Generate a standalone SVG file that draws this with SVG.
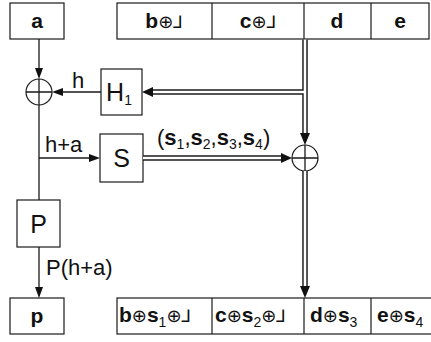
<svg xmlns="http://www.w3.org/2000/svg" width="431" height="342" viewBox="0 0 431 342">
  <style>
    .box { fill: #ffffff; stroke: #1a1a1a; stroke-width: 1.2; }
    .cell { font-family: "Liberation Sans", "DejaVu Sans", sans-serif; font-weight: bold; font-size: 21px; fill: #111; }
    .op { font-family: "DejaVu Sans", sans-serif; font-weight: normal; font-size: 18px; }
    .dl { font-family: "DejaVu Sans", sans-serif; font-weight: normal; font-size: 17px; }
    .sub { font-family: "Liberation Sans", sans-serif; font-weight: normal; font-size: 14px; }
    .lbl { font-family: "Liberation Sans", sans-serif; font-size: 22px; fill: #111; }
    .blk { font-family: "Liberation Sans", sans-serif; font-size: 25px; fill: #111; }
    .wire { fill: none; stroke: #1a1a1a; stroke-width: 1.3; }
    .dbl-out { fill: none; stroke: #1a1a1a; stroke-width: 5.5; }
    .dbl-in { fill: none; stroke: #ffffff; stroke-width: 2.6; }
    .xor { fill: #ffffff; stroke: #1a1a1a; stroke-width: 1.2; }
    .head { fill: #111; }
  </style>

  <!-- input word -->
  <g id="in-a">
    <rect class="box" x="10" y="3" width="54" height="36"/>
    <text class="cell" x="37" y="28" text-anchor="middle">a</text>
  </g>
  <g id="in-rest">
    <rect class="box" x="117" y="3" width="312" height="36"/>
    <line class="box" x1="212" y1="3" x2="212" y2="39"/>
    <line class="box" x1="304" y1="3" x2="304" y2="39"/>
    <line class="box" x1="371" y1="3" x2="371" y2="39"/>
    <text class="cell" x="164" y="28" text-anchor="middle">b<tspan class="op">⊕</tspan><tspan class="dl">⅃</tspan></text>
    <text class="cell" x="258" y="28" text-anchor="middle">c<tspan class="op">⊕</tspan><tspan class="dl">⅃</tspan></text>
    <text class="cell" x="337" y="28" text-anchor="middle">d</text>
    <text class="cell" x="400" y="28" text-anchor="middle">e</text>
  </g>

  <!-- function blocks -->
  <g id="H1">
    <rect class="box" x="101" y="69" width="41" height="46"/>
    <text class="blk" x="119" y="101" text-anchor="middle">H<tspan class="sub" dy="4">1</tspan></text>
  </g>
  <g id="S">
    <rect class="box" x="100" y="134" width="43" height="48"/>
    <text class="blk" x="121.5" y="167" text-anchor="middle">S</text>
  </g>
  <g id="P">
    <rect class="box" x="17" y="200" width="43" height="47"/>
    <text class="blk" x="38.5" y="233" text-anchor="middle">P</text>
  </g>

  <!-- xor junctions -->
  <g id="xor1">
    <circle class="xor" cx="39" cy="92" r="13"/>
    <path class="wire" d="M26,92 H52 M39,79 V105"/>
  </g>
  <g id="xor2">
    <circle class="xor" cx="305" cy="158" r="13"/>
    <path class="wire" d="M292,158 H318 M305,145 V171"/>
  </g>

  <!-- output word -->
  <g id="out-p">
    <rect class="box" x="10" y="298" width="54" height="36"/>
    <text class="cell" x="37" y="323" text-anchor="middle">p</text>
  </g>
  <g id="out-rest">
    <rect class="box" x="117" y="298" width="330" height="36"/>
    <line class="box" x1="212" y1="298" x2="212" y2="334"/>
    <line class="box" x1="304" y1="298" x2="304" y2="334"/>
    <line class="box" x1="371" y1="298" x2="371" y2="334"/>
    <text class="cell" x="119" y="322">b<tspan class="op">⊕</tspan>s<tspan class="sub" dy="5">1</tspan><tspan class="op" dy="-5">⊕</tspan><tspan class="dl">⅃</tspan></text>
    <text class="cell" x="215" y="322">c<tspan class="op">⊕</tspan>s<tspan class="sub" dy="5">2</tspan><tspan class="op" dy="-5">⊕</tspan><tspan class="dl">⅃</tspan></text>
    <text class="cell" x="310" y="322">d<tspan class="op">⊕</tspan>s<tspan class="sub" dy="5">3</tspan></text>
    <text class="cell" x="377" y="322">e<tspan class="op">⊕</tspan>s<tspan class="sub" dy="5">4</tspan></text>
  </g>

  <!-- connectors -->
  <g id="connectors">
    <!-- single wires -->
    <path class="wire" d="M39,39 V68"/>
    <polygon class="head" points="35,68 43,68 39,79"/>
    <path class="wire" d="M101,92 H63"/>
    <polygon class="head" points="63,88 63,96 52,92"/>
    <path class="wire" d="M39,105 V200"/>
    <path class="wire" d="M39,158 H89"/>
    <polygon class="head" points="89,154 89,162 100,158"/>
    <path class="wire" d="M39,247 V287"/>
    <polygon class="head" points="35,287 43,287 39,298"/>

    <!-- double buses -->
    <path class="dbl-out" d="M305,39.6 V134"/>
    <path class="dbl-out" d="M305,92 H153"/>
    <path class="dbl-out" d="M143,158 H281"/>
    <path class="dbl-out" d="M305,171 V287"/>
    <path class="dbl-in" d="M305,39.6 V134"/>
    <path class="dbl-in" d="M305,92 H153"/>
    <path class="dbl-in" d="M143,158 H281"/>
    <path class="dbl-in" d="M305,171 V287"/>
    <polygon class="head" points="300,133 310,133 305,145"/>
    <polygon class="head" points="153,87 153,97 142,92"/>
    <polygon class="head" points="281,153 281,163 292,158"/>
    <polygon class="head" points="300,286 310,286 305,298"/>

    <!-- wire labels -->
    <text class="lbl" x="72" y="88">h</text>
    <text class="lbl" x="45" y="152">h+a</text>
    <text class="lbl" x="46" y="275" font-size="23">P(h+a)</text>
    <text class="lbl" x="157" y="145">(<tspan font-weight="bold">s</tspan><tspan class="sub" dy="4">1</tspan><tspan dy="-4">,</tspan><tspan font-weight="bold">s</tspan><tspan class="sub" dy="4">2</tspan><tspan dy="-4">,</tspan><tspan font-weight="bold">s</tspan><tspan class="sub" dy="4">3</tspan><tspan dy="-4">,</tspan><tspan font-weight="bold">s</tspan><tspan class="sub" dy="4">4</tspan><tspan dy="-4">)</tspan></text>
  </g>
</svg>
